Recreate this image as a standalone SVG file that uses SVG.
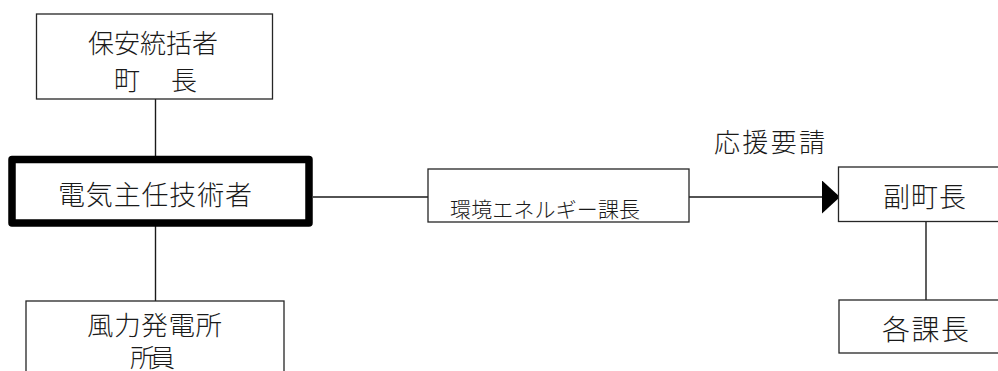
<svg xmlns="http://www.w3.org/2000/svg" width="998" height="371" viewBox="0 0 998 371">
  <style>
    .box { fill: #ffffff; stroke: #262626; stroke-width: 1.3; }
    .thick { fill: #ffffff; stroke: #000000; stroke-width: 7.5; stroke-linejoin: round; }
    .conn { fill: none; stroke: #1a1a1a; stroke-width: 1.4; }
    .t { font-family: "Liberation Serif", "Noto Sans CJK JP", serif; fill: #1a1a1a; font-weight: 300; }
  </style>
  <defs>
    <marker id="arrow" markerUnits="userSpaceOnUse" markerWidth="20" markerHeight="34" refX="18" refY="16.5" orient="auto">
      <polygon points="0,0 18,16.5 0,33" fill="#000000"/>
    </marker>
  </defs>
  <rect width="998" height="371" fill="#ffffff"/>

  <g id="connectors">
    <line class="conn" x1="155.5" y1="99" x2="155.5" y2="157"/>
    <line class="conn" x1="155.5" y1="226" x2="155.5" y2="301"/>
    <line class="conn" x1="313" y1="197" x2="428" y2="197"/>
    <line class="conn" x1="689" y1="197" x2="840" y2="197" marker-end="url(#arrow)"/>
    <line class="conn" x1="926" y1="221.5" x2="926" y2="300"/>
  </g>

  <g id="node-hoan">
    <rect class="box" x="36.5" y="14" width="236" height="85"/>
    <text class="t" x="88" y="52.5" font-size="26" textLength="130" lengthAdjust="spacing">保安統括者</text>
    <text class="t" x="114" y="90" font-size="26" textLength="83" lengthAdjust="spacing">町　長</text>
  </g>

  <g id="node-denki">
    <rect class="thick" x="12" y="159.5" width="297" height="63.5"/>
    <text class="t" x="58" y="204.5" font-size="27" textLength="194" lengthAdjust="spacing">電気主任技術者</text>
  </g>

  <g id="node-furyoku">
    <rect class="box" x="26" y="301" width="258" height="90"/>
    <text class="t" x="87" y="334.5" font-size="26.5" textLength="135" lengthAdjust="spacing">風力発電所</text>
    <text class="t" x="130" y="367" font-size="25" textLength="45" lengthAdjust="spacing">所員</text>
  </g>

  <g id="node-kankyo">
    <rect class="box" x="428" y="169" width="261" height="53"/>
    <text class="t" x="450" y="216.5" font-size="21" textLength="190" lengthAdjust="spacing">環境エネルギー課長</text>
  </g>

  <g id="label-ouen">
    <text class="t" x="714" y="151.5" font-size="26" textLength="111" lengthAdjust="spacing">応援要請</text>
  </g>

  <g id="node-fukuchou">
    <rect class="box" x="838.5" y="167" width="175" height="54.5"/>
    <text class="t" x="883" y="206.5" font-size="27" textLength="83" lengthAdjust="spacing">副町長</text>
  </g>

  <g id="node-kakuka">
    <rect class="box" x="839" y="300" width="175" height="53"/>
    <text class="t" x="882" y="339.5" font-size="28" textLength="87" lengthAdjust="spacing">各課長</text>
  </g>
</svg>
